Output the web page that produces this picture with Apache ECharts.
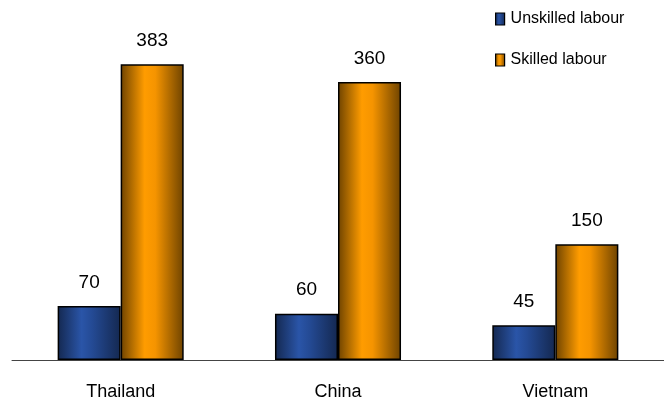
<!DOCTYPE html>
<html>
<head>
<meta charset="utf-8">
<script src="https://cdn.jsdelivr.net/npm/echarts@6/dist/echarts.min.js"></script>
<style>
html, body { margin: 0; padding: 0; background: #fff; }
#chart { width: 664px; height: 404px; }
</style>
</head>
<body>
<div id="chart"></div>
<script>
// Labour cost by country
const categories = ['Thailand', 'China', 'Vietnam'];
const unskilled = [70, 60, 45];
const skilled = [383, 360, 150];
const seriesNames = ['Unskilled labour', 'Skilled labour'];

const FONT = '"Liberation Sans", Arial, sans-serif';

// cylinder-like shading across each bar
function shade(edge, mid, light) {
  return new echarts.graphic.LinearGradient(0, 0, 1, 0, [
    { offset: 0, color: edge },
    { offset: 0.38, color: light },
    { offset: 0.55, color: mid },
    { offset: 1, color: edge }
  ]);
}

const blueFill = shade('#142850', '#244a94', '#2a55a8');
const orangeFill = shade('#6e4300', '#f59400', '#ff9c00');

const chart = echarts.init(document.getElementById('chart'));

chart.setOption({
  animation: false,
  textStyle: { fontFamily: FONT },
  legend: {
    orient: 'vertical',
    left: 495,
    top: 11,
    padding: 0,
    itemWidth: 9,
    itemHeight: 12,
    itemGap: 25,
    icon: 'rect',
    textStyle: { fontFamily: FONT, fontSize: 16, color: '#000', padding: [0, 0, 0, 1] },
    data: [
      { name: seriesNames[0], itemStyle: { color: blueFill, borderColor: '#000', borderWidth: 1.2 } },
      { name: seriesNames[1], itemStyle: { color: orangeFill, borderColor: '#000', borderWidth: 1.2 } }
    ]
  },
  grid: { left: 12, right: -7, top: 51, bottom: 44, containLabel: false },
  xAxis: {
    type: 'category',
    data: categories,
    axisLine: { lineStyle: { color: '#444', width: 1 } },
    axisTick: { length: 6, lineStyle: { color: '#444' } },
    axisLabel: { fontFamily: FONT, fontSize: 18, color: '#000', margin: 23 }
  },
  yAxis: {
    type: 'value',
    min: 0,
    max: 400,
    show: false,
    splitLine: { show: false }
  },
  series: [
    {
      name: seriesNames[0],
      type: 'bar',
      data: unskilled,
      barGap: '0%',
      barCategoryGap: '42%',
      itemStyle: { color: blueFill, borderColor: '#000', borderWidth: 1.5 },
      label: { show: true, position: 'top', distance: 14, fontFamily: FONT, fontSize: 19, color: '#000' }
    },
    {
      name: seriesNames[1],
      type: 'bar',
      data: skilled,
      itemStyle: { color: orangeFill, borderColor: '#000', borderWidth: 1.5 },
      label: { show: true, position: 'top', distance: 14, fontFamily: FONT, fontSize: 19, color: '#000' }
    }
  ]
});
</script>
</body>
</html>
